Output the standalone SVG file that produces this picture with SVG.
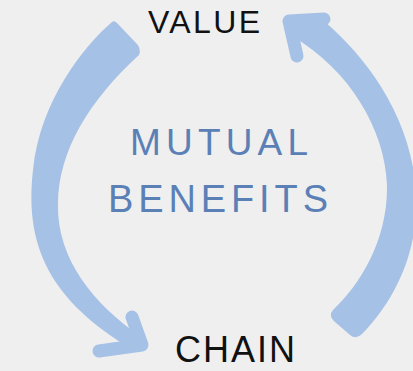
<svg xmlns="http://www.w3.org/2000/svg" width="413" height="371" viewBox="0 0 413 371">
  <style>
    .arc { fill: #a6c1e6; }
    .head { fill: none; stroke: #a6c1e6; stroke-width: 13; stroke-linecap: round; stroke-linejoin: round; }
    .lbl { font-family: "Liberation Sans", "DejaVu Sans", sans-serif; fill: #111; }
    .mid { font-family: "Liberation Sans", "DejaVu Sans", sans-serif; fill: #5b80b6; }
  </style>
  <rect width="413" height="371" fill="#efefef"/>
  <g id="connectors">
    <g id="arrow-left">
      <path class="arc" d="M112,22 C85,45 40,100 33,170 C25,240 45,295 125,345 L140,336 C95,305 57,260 58,205 C58,150 90,100 139,55 Q142,48 135,42 L118,24 Q115,20 112,22 Z"/>
      <polyline class="head" points="132,317 142,345 99,351"/>
    </g>
    <g id="arrow-right">
      <path class="arc" d="M292,26 L318,16 C360,50 410,110 416,190 C420,250 395,300 362,334 Q356,340 350,335 L335,322 Q328,316 333,310 C360,285 388,240 387,185 C385,130 350,70 292,36 Z"/>
      <polyline class="head" points="324,19 289,21 297,56"/>
    </g>
  </g>
  <g id="node-value">
    <text class="lbl" x="148" y="33" font-size="32" textLength="112" lengthAdjust="spacing">VALUE</text>
  </g>
  <g id="node-chain">
    <text class="lbl" x="175" y="362" font-size="36" textLength="120" lengthAdjust="spacing">CHAIN</text>
  </g>
  <g id="node-center">
    <text class="mid" x="130" y="155" font-size="37" textLength="178" lengthAdjust="spacing">MUTUAL</text>
    <text class="mid" x="108" y="212" font-size="38" textLength="220" lengthAdjust="spacing">BENEFITS</text>
  </g>
</svg>
